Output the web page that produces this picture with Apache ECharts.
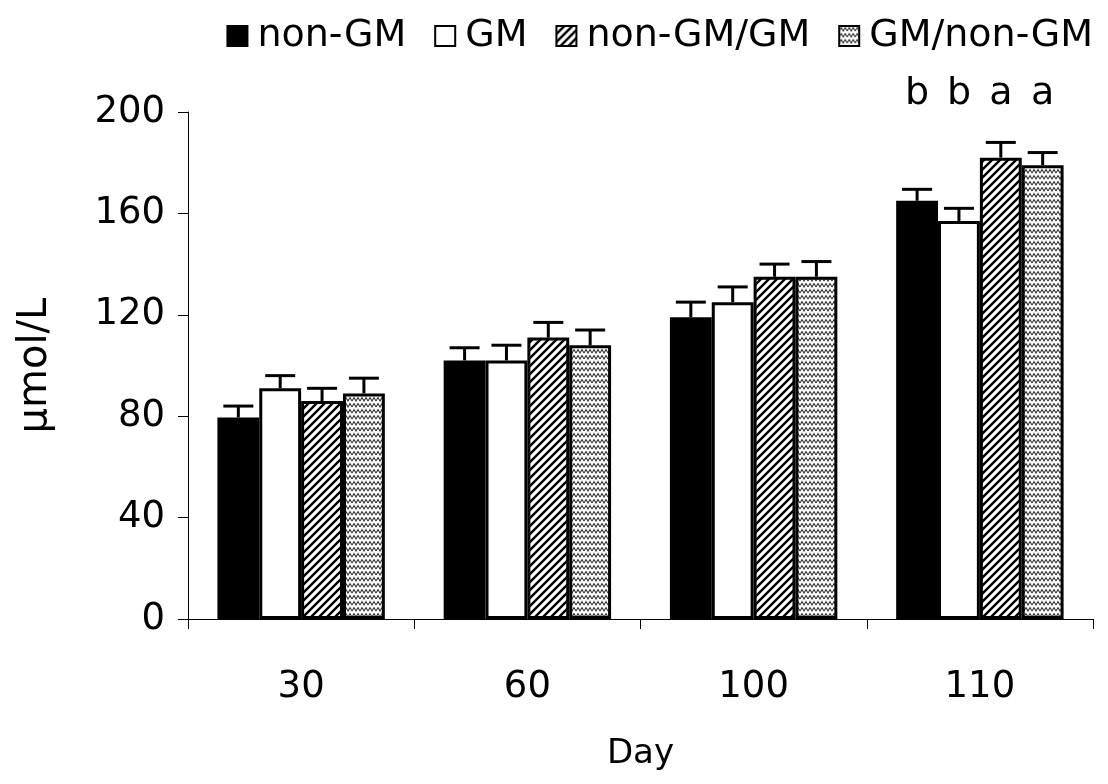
<!doctype html>
<html>
<head>
<meta charset="utf-8">
<title>μmol/L by day</title>
<style>
  html, body { margin: 0; padding: 0; background: #fff; }
  #chart { width: 1108px; height: 784px; }
</style>
</head>
<body>
<div id="chart"></div>
<script src="https://cdn.jsdelivr.net/npm/echarts@6/dist/echarts.min.js"></script>
<script>
// data
var days = ['30', '60', '100', '110'];
var groups = ['non-GM', 'GM', 'non-GM/GM', 'GM/non-GM'];
var nonGM = [79.5, 102, 119, 165];
var gm = [91, 102, 125, 157];
var nonGMGM = [86, 111, 135, 182];
var gmNonGM = [89, 108, 135, 179];
var errNonGM = [4.5, 5, 6, 4.5];
var errGM = [5, 6, 6, 5];
var errNonGMGM = [5, 6, 5, 6];
var errGMNonGM = [6, 6, 6, 5];
var letters110 = ['b', 'b', 'a', 'a'];
var yTicks = [0, 40, 80, 120, 160, 200];

var FONT = 'DejaVu Sans, Liberation Sans, sans-serif';
var gapPct = 0.26;

function hatchPattern() {
    var c = document.createElement('canvas');
    c.width = 8; c.height = 8;
    var g = c.getContext('2d');
    g.fillStyle = '#fff';
    g.fillRect(0, 0, 8, 8);
    g.strokeStyle = '#000';
    g.lineWidth = 2.4;
    g.beginPath();
    g.moveTo(-2, 10); g.lineTo(10, -2);
    g.moveTo(-6, 6); g.lineTo(6, -6);
    g.moveTo(2, 14); g.lineTo(14, 2);
    g.stroke();
    return c;
}
function wavePattern() {
    var c = document.createElement('canvas');
    c.width = 8; c.height = 6;
    var g = c.getContext('2d');
    g.fillStyle = '#fff';
    g.fillRect(0, 0, 8, 6);
    g.strokeStyle = '#333';
    g.lineWidth = 1.1;
    g.beginPath();
    g.moveTo(0, 5); g.lineTo(2, 1.5); g.lineTo(4, 5); g.lineTo(6, 1.5); g.lineTo(8, 5);
    g.stroke();
    return c;
}

var fills = [
    '#000',
    '#fff',
    { image: hatchPattern(), repeat: 'repeat' },
    { image: wavePattern(), repeat: 'repeat' }
];
var values = [nonGM, gm, nonGMGM, gmNonGM];
var errors = [errNonGM, errGM, errNonGMGM, errGMNonGM];

var barSeries = groups.map(function (name, i) {
    return {
        name: name,
        type: 'bar',
        barGap: '0%',
        barCategoryGap: '26%',
        data: values[i],
        itemStyle: { color: fills[i], borderColor: '#000', borderWidth: i === 0 ? 0 : 3 },
        z: 2
    };
});

var errData = [];
values.forEach(function (arr, s) {
    arr.forEach(function (v, k) { errData.push([k, v, errors[s][k], s]); });
});
var letterData = letters110.map(function (t, s) { return [3, 207, s, t]; });

function offsetX(api, s) {
    var band = api.size([1, 0])[0];
    var w = band * (1 - gapPct) / 4;
    return { dx: (s - 1.5) * w, w: w };
}

var option = {
    backgroundColor: '#fff',
    animation: false,
    textStyle: { fontFamily: FONT },
    legend: {
        data: groups,
        top: 12,
        right: 10,
        itemWidth: 20,
        itemHeight: 20,
        itemGap: 28,
        icon: 'rect',
        textStyle: { fontSize: 38, color: '#000', fontFamily: FONT, padding: [0, 0, 0, 5] },
        itemStyle: { borderColor: '#000', borderWidth: 2 }
    },
    grid: { left: 188, right: 15, top: 112, bottom: 165 },
    xAxis: {
        type: 'category',
        data: days,
        name: 'Day',
        nameLocation: 'middle',
        nameGap: 118,
        nameTextStyle: { fontSize: 34, color: '#000', fontFamily: FONT },
        axisLine: { lineStyle: { color: '#000', width: 1 } },
        axisTick: { show: true, inside: false, length: 10, lineStyle: { color: '#000' } },
        axisLabel: { fontSize: 37, color: '#000', margin: 50, fontFamily: FONT }
    },
    yAxis: {
        type: 'value',
        min: yTicks[0],
        max: yTicks[yTicks.length - 1],
        interval: 40,
        name: 'μmol/L',
        nameLocation: 'middle',
        nameGap: 132,
        nameRotate: 90,
        nameTextStyle: { fontSize: 40, color: '#000', fontFamily: FONT },
        axisLine: { show: true, lineStyle: { color: '#000', width: 1 } },
        axisTick: { show: true, length: 10, lineStyle: { color: '#000' } },
        axisLabel: { fontSize: 37, color: '#000', margin: 23, fontFamily: FONT },
        splitLine: { show: false }
    },
    series: barSeries.concat([
        {
            type: 'custom',
            name: 'err',
            data: errData,
            z: 3,
            encode: { x: 0, y: 1 },
            renderItem: function (params, api) {
                var s = api.value(3);
                var o = offsetX(api, s);
                var top = api.coord([api.value(0), api.value(1)]);
                var hi = api.coord([api.value(0), api.value(1) + api.value(2)]);
                var x = top[0] + o.dx;
                var cap = 30;
                return {
                    type: 'group',
                    children: [
                        { type: 'line', shape: { x1: x, y1: top[1], x2: x, y2: hi[1] },
                          style: { stroke: '#000', lineWidth: 3 } },
                        { type: 'line', shape: { x1: x - cap / 2, y1: hi[1], x2: x + cap / 2, y2: hi[1] },
                          style: { stroke: '#000', lineWidth: 3 } }
                    ]
                };
            }
        },
        {
            type: 'custom',
            name: 'letters',
            data: letterData,
            clip: false,
            z: 3,
            encode: { x: 0, y: 1 },
            renderItem: function (params, api) {
                var s = api.value(2);
                var o = offsetX(api, s);
                var p = api.coord([api.value(0), api.value(1)]);
                return {
                    type: 'text',
                    style: {
                        x: p[0] + o.dx, y: p[1],
                        text: letters110[s],
                        fontSize: 38, fontFamily: FONT, fill: '#000',
                        align: 'center', verticalAlign: 'middle'
                    }
                };
            }
        }
    ])
};

var chart = echarts.init(document.getElementById('chart'));
chart.setOption(option);
</script>
</body>
</html>
